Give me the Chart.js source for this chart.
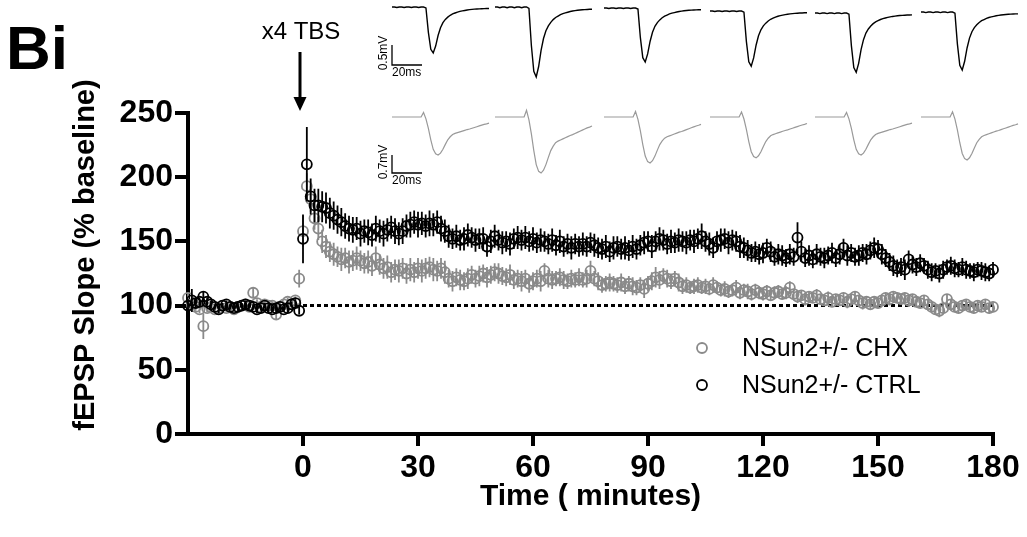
<!DOCTYPE html>
<html>
<head>
<meta charset="utf-8">
<title>fEPSP slope after x4 TBS</title>
<script src="https://cdn.jsdelivr.net/npm/chart.js@4.4.1/dist/chart.umd.min.js"></script>
<style>
  html, body { margin: 0; padding: 0; background: #fff; }
  #wrap { width: 1027px; height: 537px; }
</style>
</head>
<body>
<div id="wrap"><canvas id="ltpChart" width="1027" height="537"></canvas></div>
<script>
const FONT = "'Liberation Sans', Arial, Helvetica, sans-serif"
const GRAY = "#8a8a8a"

// time of each sweep (min), TBS at 0
const minutes = [
  -30, -29, -28, -27, -26, -25, -24, -23, -22, -21, -20, -19, -18, -17, -16,
  -15, -14, -13, -12, -11, -10, -9, -8, -7, -6, -5, -4, -3, -2, -1,
  0, 1, 2, 3, 4, 5, 6, 7, 8, 9, 10, 11, 12, 13, 14, 15, 16, 17, 18, 19,
  20, 21, 22, 23, 24, 25, 26, 27, 28, 29, 30, 31, 32, 33, 34, 35, 36, 37, 38, 39,
  40, 41, 42, 43, 44, 45, 46, 47, 48, 49, 50, 51, 52, 53, 54, 55, 56, 57, 58, 59,
  60, 61, 62, 63, 64, 65, 66, 67, 68, 69, 70, 71, 72, 73, 74, 75, 76, 77, 78, 79,
  80, 81, 82, 83, 84, 85, 86, 87, 88, 89, 90, 91, 92, 93, 94, 95, 96, 97, 98, 99,
  100, 101, 102, 103, 104, 105, 106, 107, 108, 109, 110, 111, 112, 113, 114, 115, 116, 117, 118, 119,
  120, 121, 122, 123, 124, 125, 126, 127, 128, 129, 130, 131, 132, 133, 134, 135, 136, 137, 138, 139,
  140, 141, 142, 143, 144, 145, 146, 147, 148, 149, 150, 151, 152, 153, 154, 155, 156, 157, 158, 159,
  160, 161, 162, 163, 164, 165, 166, 167, 168, 169, 170, 171, 172, 173, 174, 175, 176, 177, 178, 179,
  180
]

// NSun2+/- CTRL, % baseline
const ctrlSlope = [
  100, 104, 102, 103, 107, 103, 101, 99, 97, 100, 101, 99, 98, 99, 100,
  101, 100, 99, 97, 98, 100, 98, 97, 98, 99, 97, 98, 101, 102, 96,
  152, 210, 185, 178, 178, 177, 176, 172, 170, 167,
  165, 162, 160, 159, 160, 156, 158, 157, 155, 160,
  158, 156, 159, 161, 158, 156, 158, 162, 163, 165,
  163, 164, 162, 164, 163, 165, 160, 158, 154, 152,
  154, 151, 152, 155, 153, 151, 152, 152, 146, 150,
  154, 151, 149, 150, 148, 152, 153, 151, 153, 150,
  152, 149, 151, 150, 148, 151, 147, 150, 146, 148,
  145, 148, 146, 148, 146, 149, 147, 145, 144, 146,
  142, 145, 146, 144, 145, 143, 146, 144, 147, 149,
  150, 146, 150, 152, 151, 148, 150, 149, 151, 150,
  149, 151, 150, 152, 154, 150, 148, 145, 150, 151,
  152, 149, 151, 150, 146, 145, 143, 141, 142, 140,
  141, 145, 142, 138, 140, 139, 137, 140, 138, 153,
  142, 137, 139, 136, 140, 138, 137, 139, 141, 137,
  140, 145, 139, 141, 138, 139, 141, 140, 143, 145,
  144, 140, 137, 134, 131, 129, 130, 128, 136, 132,
  130, 133, 131, 128, 126, 127, 125, 128, 130, 131,
  129, 128, 130, 128, 127, 126, 128, 127, 126, 125,
  128
]
const ctrlSem = [
  5, 9, 4, 3, 4, 3, 3, 2, 3, 2, 3, 2, 2, 3, 2,
  3, 2, 2, 3, 2, 2, 3, 2, 3, 2, 2, 3, 2, 3, 3,
  19, 29, 14, 13, 13, 12, 12, 12, 11, 11,
  11, 10, 10, 10, 9, 10, 9, 10, 9, 10,
  9, 10, 9, 9, 10, 9, 10, 9, 10, 9,
  10, 9, 9, 10, 9, 9, 10, 9, 9, 8,
  9, 8, 9, 9, 8, 9, 8, 9, 8, 9,
  9, 8, 9, 8, 9, 8, 9, 8, 9, 8,
  9, 8, 9, 8, 8, 9, 8, 9, 8, 8,
  9, 8, 8, 9, 8, 8, 9, 8, 8, 9,
  8, 9, 8, 8, 9, 8, 9, 8, 8, 9,
  8, 9, 8, 9, 8, 8, 9, 8, 9, 8,
  9, 8, 9, 8, 10, 8, 9, 8, 8, 9,
  8, 9, 8, 8, 9, 8, 8, 7, 8, 8,
  8, 7, 8, 7, 8, 8, 7, 8, 7, 12,
  8, 7, 8, 7, 8, 7, 8, 7, 8, 7,
  8, 7, 8, 7, 7, 8, 7, 8, 7, 8,
  7, 8, 7, 7, 8, 7, 7, 8, 7, 7,
  7, 7, 6, 7, 7, 6, 7, 7, 6, 7,
  7, 6, 7, 7, 6, 7, 6, 7, 7, 6,
  6
]

// NSun2+/- CHX, % baseline
const chxSlope = [
  106, 101, 99, 97, 84, 98, 99, 97, 98, 100, 98, 99, 97, 99, 100,
  101, 99, 110, 102, 99, 101, 100, 100, 93, 99, 101, 103, 101, 104, 121,
  158, 193, 183, 168, 160, 150, 146, 142, 140, 138,
  136, 137, 134, 135, 137, 135, 133, 134, 131, 137,
  132, 129, 130, 126, 128, 127, 129, 125, 128, 126,
  129, 127, 129, 130, 128, 127, 129, 126, 121, 119,
  122, 120, 119, 121, 124, 121, 123, 125, 122, 124,
  126, 125, 123, 122, 124, 120, 121, 119, 121, 117,
  119, 121, 119, 127, 121, 120, 121, 122, 120, 119,
  121, 120, 122, 120, 121, 127, 121, 119, 116, 117,
  118, 117, 116, 118, 115, 117, 115, 114, 116, 113,
  117, 119, 122, 120, 123, 121, 119, 121, 118, 115,
  116, 114, 115, 116, 114, 115, 113, 116, 114, 112,
  113, 111, 112, 114, 110, 112, 111, 109, 112, 110,
  109, 111, 108, 110, 111, 109, 110, 114, 109, 107,
  108, 105, 107, 106, 108, 105, 104, 106, 103, 105,
  104, 106, 103, 105, 107, 104, 102, 103, 101, 103,
  102, 104, 106, 105, 107, 106, 105, 106, 104, 105,
  103, 102, 104, 101, 99, 97, 96, 98, 105, 101,
  99, 98, 100, 101, 99, 98, 100, 99, 101, 98,
  99
]
const chxSem = [
  4, 3, 3, 3, 10, 3, 3, 2, 3, 2, 3, 3, 2, 3, 2,
  3, 2, 4, 3, 2, 3, 2, 3, 4, 3, 2, 3, 3, 3, 7,
  12, 10, 10, 9, 9, 9, 9, 8, 9, 8,
  9, 8, 9, 8, 9, 8, 8, 9, 8, 9,
  8, 8, 9, 8, 8, 9, 8, 8, 9, 8,
  8, 9, 8, 8, 9, 8, 8, 9, 7, 8,
  7, 8, 7, 8, 7, 7, 8, 7, 8, 7,
  7, 8, 7, 7, 8, 7, 7, 8, 7, 7,
  7, 7, 8, 6, 7, 7, 6, 7, 7, 6,
  7, 6, 7, 6, 7, 8, 6, 7, 6, 6,
  7, 6, 6, 7, 6, 6, 7, 6, 6, 7,
  6, 7, 8, 7, 6, 7, 6, 6, 7, 6,
  6, 5, 6, 6, 5, 6, 5, 6, 5, 5,
  6, 5, 5, 6, 5, 5, 6, 5, 5, 5,
  5, 5, 4, 5, 5, 4, 5, 5, 4, 5,
  4, 5, 4, 4, 5, 4, 4, 5, 4, 4,
  4, 4, 5, 4, 4, 4, 5, 4, 4, 4,
  4, 4, 4, 5, 4, 4, 4, 4, 5, 4,
  4, 4, 4, 4, 4, 4, 5, 4, 4, 4,
  4, 4, 4, 4, 4, 4, 4, 4, 4, 4,
  4
]

const seriesLabels = ["NSun2+/- CHX", "NSun2+/- CTRL"]
const xTicks = [0, 30, 60, 90, 120, 150, 180]
const yTicks = [0, 50, 100, 150, 200, 250]
const refLineX = [0, 180]   // dashed 100 % line after TBS
const refLineY = 100

// example sweeps: normalised waveform shapes and peak amplitude (mV) per time point
const ctrlWave = [
  0, 0, 0.01, 0, 0, 0.01, 0, 0, 0.01, 0, 0, 0.01, 0, 0,
  0.02, 0.55, 0.92, 1, 0.85, 0.62, 0.45, 0.34, 0.27, 0.22, 0.18, 0.15, 0.13,
  0.11, 0.095, 0.085, 0.075, 0.065, 0.058, 0.052, 0.047, 0.043, 0.04, 0.037, 0.035, 0.033, 0.032
]
const chxWave = [
  0, 0, 0, 0, 0, 0, 0, 0, 0, 0, 0, 0, 0,
  -0.12, 0.05, 0.3, 0.6, 0.85, 0.97, 1, 0.95, 0.85, 0.72, 0.6, 0.52, 0.46, 0.43, 0.41,
  0.39, 0.37, 0.35, 0.33, 0.315, 0.295, 0.275, 0.255, 0.235, 0.215, 0.195, 0.18, 0.16
]
const ctrlPeakMv = [1.15, 1.75, 1.35, 1.38, 1.48, 1.45]
const chxPeakMv = [1.48, 2.18, 1.79, 1.59, 1.48, 1.67]

function toPoints(values) {
  return values.map((v, i) => ({ x: minutes[i], y: v }))
}

// vertical SEM bars, drawn under each dataset's circles
const errorBars = {
  id: "errorBars",
  beforeDatasetDraw(chart, args) {
    const ds = chart.data.datasets[args.index]
    if (!ds.sem) return
    const { ctx, scales: { x, y } } = chart
    ctx.save()
    ctx.strokeStyle = ds.borderColor
    ctx.lineWidth = 1.8
    ctx.beginPath()
    ds.data.forEach((p, i) => {
      const px = x.getPixelForValue(p.x)
      ctx.moveTo(px, y.getPixelForValue(p.y - ds.sem[i]))
      ctx.lineTo(px, y.getPixelForValue(p.y + ds.sem[i]))
    })
    ctx.stroke()
    ctx.restore()
  }
}

function drawSweepRow(ctx, wave, peaks, color, baseYs, pxPerMv, lw) {
  const starts = [392, 495, 604, 710, 815, 921]
  const w = 97
  ctx.strokeStyle = color
  ctx.lineWidth = lw
  peaks.forEach((mv, t) => {
    ctx.beginPath()
    wave.forEach((v, k) => {
      const px = starts[t] + (k / (wave.length - 1)) * w
      const py = baseYs[t] + v * mv * pxPerMv
      if (k === 0) ctx.moveTo(px, py)
      else ctx.lineTo(px, py)
    })
    ctx.stroke()
  })
}

function drawScaleBar(ctx, color, x0, yTop, yBot, mvText) {
  ctx.strokeStyle = color
  ctx.lineWidth = 1.3
  ctx.beginPath()
  ctx.moveTo(x0, yTop)
  ctx.lineTo(x0, yBot)
  ctx.lineTo(x0 + 30, yBot)
  ctx.stroke()
  ctx.fillStyle = "#000"
  ctx.font = `12px ${FONT}`
  ctx.textAlign = "left"
  ctx.textBaseline = "top"
  ctx.fillText("20ms", x0, yBot + 2)
  ctx.save()
  ctx.translate(x0 - 8, (yTop + yBot) / 2 - 2)
  ctx.rotate(-Math.PI / 2)
  ctx.textAlign = "center"
  ctx.textBaseline = "middle"
  ctx.fillText(mvText, 0, 0)
  ctx.restore()
}

const annotations = {
  id: "annotations",
  afterDraw(chart) {
    const { ctx, scales: { x } } = chart
    ctx.save()
    ctx.fillStyle = "#000"
    ctx.strokeStyle = "#000"

    // panel letter
    ctx.font = `bold 62px ${FONT}`
    ctx.textAlign = "left"
    ctx.textBaseline = "alphabetic"
    ctx.fillText("Bi", 6, 69)

    // y axis title
    ctx.save()
    ctx.translate(86, 255)
    ctx.rotate(-Math.PI / 2)
    ctx.font = `bold 29px ${FONT}`
    ctx.textAlign = "center"
    ctx.textBaseline = "middle"
    ctx.fillText("fEPSP Slope (% baseline)", 0, 0)
    ctx.restore()

    // TBS marker
    const ax = x.getPixelForValue(0) - 3
    ctx.font = `24px ${FONT}`
    ctx.textAlign = "center"
    ctx.fillText("x4 TBS", ax + 1, 39)
    ctx.lineWidth = 3
    ctx.beginPath()
    ctx.moveTo(ax, 52)
    ctx.lineTo(ax, 100)
    ctx.stroke()
    ctx.beginPath()
    ctx.moveTo(ax - 6.5, 97)
    ctx.lineTo(ax + 6.5, 97)
    ctx.lineTo(ax, 111)
    ctx.closePath()
    ctx.fill()

    // legend
    const rows = [348, 385]
    chart.data.datasets.filter(d => seriesLabels.includes(d.label)).forEach((d, i) => {
      ctx.beginPath()
      ctx.arc(702, rows[i], 5, 0, Math.PI * 2)
      ctx.lineWidth = 1.8
      ctx.strokeStyle = d.borderColor
      ctx.stroke()
      ctx.fillStyle = "#000"
      ctx.font = `25px ${FONT}`
      ctx.textAlign = "left"
      ctx.textBaseline = "middle"
      ctx.fillText(d.label, 742, rows[i] + 1)
    })

    // example sweeps
    drawSweepRow(ctx, ctrlWave, ctrlPeakMv, "#000", [7, 7, 8, 11, 13, 12], 40, 1.4)
    drawSweepRow(ctx, chxWave, chxPeakMv, "#999", [117, 117, 117, 117, 117, 117], 25.7, 1.2)
    drawScaleBar(ctx, "#000", 392, 45, 65, "0.5mV")
    drawScaleBar(ctx, "#000", 392, 155, 173, "0.7mV")

    ctx.restore()
  }
}

const tickFont = { family: FONT, size: 32, weight: "bold" }

new Chart(document.getElementById("ltpChart"), {
  type: "scatter",
  data: {
    datasets: [
      {
        label: seriesLabels[0],
        data: toPoints(chxSlope),
        sem: chxSem,
        borderColor: GRAY,
        backgroundColor: "rgba(0,0,0,0)",
        pointRadius: 5,
        pointBorderWidth: 1.8,
        clip: false,
        order: 1,
      },
      {
        label: seriesLabels[1],
        data: toPoints(ctrlSlope),
        sem: ctrlSem,
        borderColor: "#000",
        backgroundColor: "rgba(0,0,0,0)",
        pointRadius: 5,
        pointBorderWidth: 1.8,
        clip: false,
        order: 0,
      },
      {
        type: "line",
        label: "baseline",
        data: refLineX.map(v => ({ x: v, y: refLineY })),
        borderColor: "#000",
        borderWidth: 3,
        borderDash: [4, 3],
        pointRadius: 0,
        order: 2,
      },
    ],
  },
  options: {
    responsive: false,
    animation: false,
    events: [],
    layout: { padding: { top: 113, right: 34, left: 0, bottom: 0 } },
    plugins: {
      legend: { display: false },
      tooltip: { enabled: false },
    },
    scales: {
      x: {
        type: "linear",
        min: -30,
        max: 180,
        afterBuildTicks: s => { s.ticks = xTicks.map(v => ({ value: v })) },
        afterFit: s => { s.height = 103 },
        border: { color: "#000", width: 4 },
        grid: { drawOnChartArea: false, color: "#000", lineWidth: 4, tickLength: 12 },
        ticks: { color: "#000", font: tickFont, padding: 3, maxRotation: 0, autoSkip: false },
        title: {
          display: true,
          text: "Time ( minutes)",
          color: "#000",
          font: { family: FONT, size: 30, weight: "bold" },
          padding: { top: 0, bottom: 22 },
        },
      },
      y: {
        min: 0,
        max: 250,
        afterBuildTicks: s => { s.ticks = yTicks.map(v => ({ value: v })) },
        afterFit: s => { s.width = 188 },
        border: { color: "#000", width: 4 },
        grid: { drawOnChartArea: false, color: "#000", lineWidth: 4, tickLength: 13 },
        ticks: { color: "#000", font: tickFont, padding: 2 },
      },
    },
  },
  plugins: [errorBars, annotations],
})
</script>
</body>
</html>
